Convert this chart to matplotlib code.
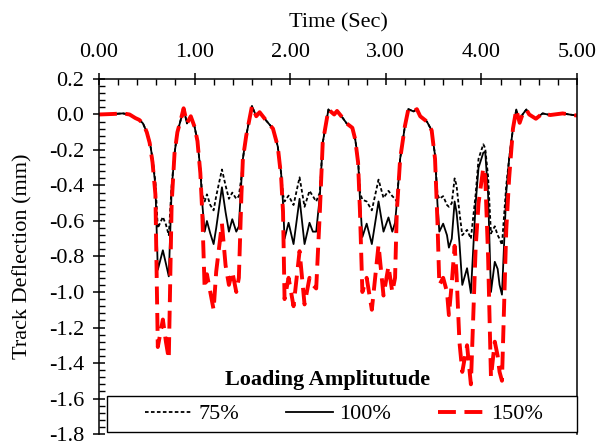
#==============================================================
# Track deflection x time for three loading amplitudes
#==============================================================
import numpy as np
import matplotlib
matplotlib.use('Agg')
import matplotlib.pyplot as plt
from matplotlib.ticker import MultipleLocator, FormatStrFormatter
from matplotlib.patches import Rectangle

plt.rcParams['font.family'] = ['Liberation Serif', 'DejaVu Serif']
plt.rcParams['font.size'] = 16
plt.rcParams['axes.unicode_minus'] = False

#--------------------------------------------------------------
# Data
#--------------------------------------------------------------
time_s = [
    0.00, 0.15, 0.25, 0.32, 0.38, 0.42, 0.46, 0.50, 0.53, 0.56, 0.59,
    0.615, 0.668, 0.70, 0.73,
    0.76, 0.79, 0.82, 0.86, 0.885, 0.92, 0.96, 1.00, 1.03, 1.06, 1.08,
    1.105, 1.129, 1.164, 1.199, 1.226, 1.286, 1.324, 1.359, 1.394, 1.436, 1.463,
    1.49, 1.505, 1.54, 1.60, 1.645, 1.68, 1.75, 1.82, 1.87, 1.905, 1.925,
    1.941, 1.983, 2.035, 2.098, 2.15, 2.202, 2.237, 2.272,
    2.31, 2.34, 2.40, 2.46, 2.49, 2.55, 2.59, 2.65, 2.68, 2.71, 2.73,
    2.755, 2.80, 2.854, 2.924, 2.976, 3.028, 3.068, 3.097,
    3.115, 3.15, 3.20, 3.236, 3.29, 3.325, 3.36, 3.43, 3.48, 3.515, 3.54,
    3.56, 3.60, 3.64, 3.66, 3.69, 3.72, 3.74, 3.77, 3.80, 3.85, 3.89,
    3.94, 3.97, 4.02, 4.04, 4.07, 4.10, 4.14, 4.17, 4.19, 4.215,
    4.26, 4.29, 4.33, 4.365, 4.40, 4.43, 4.47, 4.50, 4.57, 4.64, 4.72, 4.85, 4.92, 5.00,
]

amp_75 = [
    0.0, 0.003, 0.006, 0.0, -0.02, -0.03, -0.05, -0.10, -0.15, -0.25, -0.38,
    -0.64, -0.577, -0.62, -0.68,
    -0.40, -0.22, -0.10, -0.02, 0.035, -0.05, -0.01, -0.07, -0.15, -0.31, -0.45,
    -0.49, -0.45, -0.51, -0.54, -0.46, -0.31, -0.40, -0.475, -0.44, -0.475, -0.46,
    -0.35, -0.25, -0.12, 0.047, -0.01, 0.013, -0.035, -0.08, -0.18, -0.33, -0.45,
    -0.49, -0.457, -0.51, -0.354, -0.52, -0.43, -0.46, -0.49,
    -0.44, -0.16, 0.028, 0.0, 0.02, -0.02, -0.05, -0.075, -0.14, -0.25, -0.44,
    -0.48, -0.49, -0.54, -0.367, -0.47, -0.43, -0.46, -0.475,
    -0.49, -0.25, -0.065, 0.03, 0.017, 0.03, -0.01, -0.04, -0.09, -0.23, -0.45,
    -0.475, -0.46, -0.51, -0.52, -0.50, -0.36, -0.40, -0.55, -0.68, -0.65, -0.70,
    -0.45, -0.25, -0.168, -0.19, -0.35, -0.67, -0.63, -0.68, -0.70, -0.735,
    -0.40, -0.25, -0.08, 0.028, -0.047, 0.0, 0.028, 0.0, -0.024, 0.006, -0.003, 0.006, 0.0, -0.006,
]

amp_100 = [
    0.0, 0.003, 0.006, 0.0, -0.02, -0.03, -0.05, -0.10, -0.15, -0.25, -0.40,
    -0.875, -0.765, -0.84, -0.912,
    -0.42, -0.22, -0.10, -0.02, 0.035, -0.05, -0.01, -0.07, -0.15, -0.31, -0.50,
    -0.66, -0.60, -0.67, -0.73, -0.64, -0.41, -0.55, -0.66, -0.59, -0.66, -0.63,
    -0.37, -0.25, -0.12, 0.047, -0.01, 0.013, -0.035, -0.08, -0.18, -0.33, -0.50,
    -0.70, -0.61, -0.73, -0.475, -0.73, -0.61, -0.66, -0.66,
    -0.46, -0.16, 0.028, 0.0, 0.02, -0.02, -0.05, -0.075, -0.14, -0.25, -0.48,
    -0.69, -0.615, -0.73, -0.49, -0.66, -0.58, -0.66, -0.61,
    -0.50, -0.25, -0.065, 0.03, 0.017, 0.03, -0.01, -0.04, -0.09, -0.23, -0.50,
    -0.66, -0.615, -0.68, -0.75, -0.70, -0.49, -0.55, -0.72, -0.96, -0.866, -1.006,
    -0.50, -0.30, -0.215, -0.21, -0.45, -1.0, -0.83, -0.87, -0.96, -1.015,
    -0.44, -0.25, -0.08, 0.028, -0.047, 0.0, 0.028, 0.0, -0.024, 0.006, -0.003, 0.006, 0.0, -0.006,
]

amp_150 = [
    0.0, 0.003, 0.006, 0.0, -0.02, -0.03, -0.05, -0.10, -0.16, -0.27, -0.45,
    -1.31, -1.155, -1.28, -1.377,
    -0.50, -0.22, -0.10, -0.02, 0.035, -0.05, -0.01, -0.07, -0.15, -0.33, -0.55,
    -0.98, -0.90, -1.00, -1.10, -0.885, -0.615, -0.85, -0.96, -0.885, -1.00, -0.92,
    -0.45, -0.25, -0.12, 0.047, -0.01, 0.013, -0.035, -0.08, -0.18, -0.35, -0.55,
    -1.04, -0.92, -1.08, -0.77, -1.07, -0.92, -0.96, -0.98,
    -0.55, -0.16, 0.028, 0.0, 0.02, -0.02, -0.05, -0.075, -0.14, -0.27, -0.55,
    -1.0, -0.92, -1.10, -0.735, -1.02, -0.855, -1.0, -0.92,
    -0.55, -0.25, -0.065, 0.03, 0.017, 0.03, -0.01, -0.04, -0.09, -0.25, -0.60,
    -0.96, -0.92, -1.00, -1.13, -0.95, -0.74, -0.90, -1.28, -1.45, -1.30, -1.52,
    -0.75, -0.50, -0.30, -0.35, -0.80, -1.48, -1.28, -1.36, -1.45, -1.50,
    -0.65, -0.36, -0.08, 0.028, -0.047, 0.0, 0.028, 0.0, -0.024, 0.006, -0.003, 0.006, 0.0, -0.006,
]

labels = ['75%', '100%', '150%']

#--------------------------------------------------------------
# Plot
#--------------------------------------------------------------
fig = plt.figure(figsize=(6.04, 4.45), dpi=100)
ax = fig.add_axes([0.1639, 0.0247, 0.7914, 0.7978])

ax.plot(time_s, amp_75, color='k', lw=1.3, ls=(0, (2.0, 1.3)), label=labels[0])
ax.plot(time_s, amp_100, color='k', lw=1.3, ls='-', label=labels[1])
ax.plot(time_s, amp_150, color='#ff0000', lw=2.8, ls=(0, (4.6, 2.2)), label=labels[2])

ax.set_xlim(0, 5)
ax.set_ylim(-1.8, 0.2)

# eixo x no topo
ax.xaxis.tick_top()
ax.xaxis.set_label_position('top')
ax.set_xlabel('Time (Sec)', labelpad=11)
ax.set_ylabel('Track Deflection (mm)', labelpad=12)

ax.xaxis.set_major_locator(MultipleLocator(1.0))
ax.xaxis.set_minor_locator(MultipleLocator(0.2))
ax.yaxis.set_major_locator(MultipleLocator(0.2))
ax.yaxis.set_minor_locator(MultipleLocator(0.04))
ax.xaxis.set_major_formatter(FormatStrFormatter('%.2f'))
ax.yaxis.set_major_formatter(FormatStrFormatter('%.1f'))

ax.tick_params(which='major', direction='inout', length=9, width=1.1, pad=6)
ax.tick_params(axis='x', which='major', pad=8)
ax.tick_params(which='minor', direction='in', length=4, width=1.0)
ax.tick_params(axis='x', which='both', top=True, bottom=False)

for side in ['top', 'left', 'right']:
    ax.spines[side].set_linewidth(1.1)
ax.spines['bottom'].set_visible(False)

# legenda (moldura desenhada a parte)
leg = ax.legend(loc='center', bbox_to_anchor=(0.513, 0.056), ncol=3,
                frameon=False, handlelength=2.1, handletextpad=0.3,
                columnspacing=2.1, borderpad=0.0, borderaxespad=0.0)
ax.add_patch(Rectangle((0.0167, 0.006), 0.983, 0.10, transform=ax.transAxes,
                       fill=True, facecolor='white', edgecolor='k', lw=1.0,
                       zorder=4, clip_on=False))
leg.set_zorder(5)
ax.text(0.478, 0.151, 'Loading Amplitutude', transform=ax.transAxes,
        ha='center', va='center', fontweight='bold')

plt.savefig('out.png', dpi=100)
plt.close('all')
